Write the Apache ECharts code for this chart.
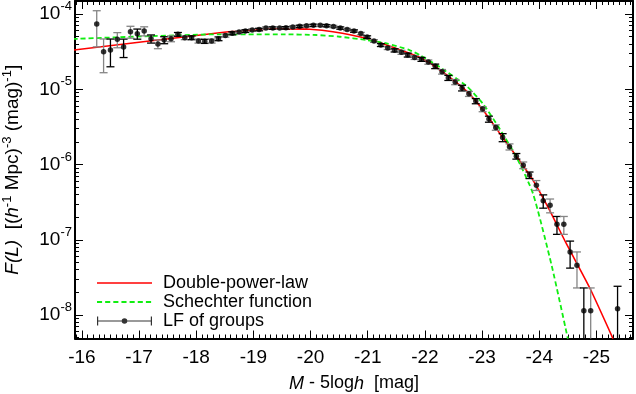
<!DOCTYPE html>
<html>
<head>
<meta charset="utf-8">
<script src="https://cdn.jsdelivr.net/npm/echarts@6/dist/echarts.min.js"></script>
<style>
html, body { margin: 0; padding: 0; background: #fff; }
#chart { width: 636px; height: 394px; }
</style>
</head>
<body>
<div id="chart"></div>
<script>
// LF of groups: absolute magnitude bins, F(L) values and 1-sigma errors
var mags = [
  -16.26, -16.38, -16.50, -16.62, -16.73, -16.85, -16.97, -17.09, -17.21, -17.33,
  -17.44, -17.56, -17.68, -17.80, -17.92, -18.04, -18.15, -18.27, -18.39, -18.51,
  -18.63, -18.75, -18.86, -18.98, -19.10, -19.22, -19.34, -19.46, -19.57, -19.69,
  -19.81, -19.93, -20.05, -20.17, -20.28, -20.40, -20.52, -20.64, -20.76, -20.88,
  -20.99, -21.11, -21.23, -21.35, -21.47, -21.59, -21.70, -21.82, -21.94, -22.06,
  -22.18, -22.30, -22.41, -22.53, -22.65, -22.77, -22.89, -23.01, -23.12, -23.24,
  -23.36, -23.48, -23.60, -23.72, -23.83, -23.95, -24.07, -24.19, -24.31, -24.43,
  -24.54, -24.66, -24.78, -24.90, -25.37
];
var lf = [
  7.36e-5, 3.16e-5, 3.32e-5, 4.61e-5, 3.64e-5, 5.82e-5, 5.47e-5, 5.94e-5, 4.69e-5, 3.99e-5,
  4.51e-5, 4.70e-5, 5.37e-5, 4.84e-5, 4.84e-5, 4.38e-5, 4.34e-5, 4.38e-5, 4.69e-5, 5.18e-5,
  5.54e-5, 5.76e-5, 5.94e-5, 6.13e-5, 6.22e-5, 6.51e-5, 6.51e-5, 6.51e-5, 6.55e-5, 6.72e-5,
  6.86e-5, 6.99e-5, 7.07e-5, 7.07e-5, 6.99e-5, 6.82e-5, 6.51e-5, 6.22e-5, 5.94e-5, 5.50e-5,
  4.94e-5, 4.38e-5, 3.87e-5, 3.53e-5, 3.29e-5, 3.10e-5, 2.85e-5, 2.65e-5, 2.50e-5, 2.30e-5,
  2.02e-5, 1.71e-5, 1.42e-5, 1.25e-5, 1.04e-5, 8.70e-6, 6.97e-6, 5.45e-6, 4.02e-6, 3.11e-6,
  2.29e-6, 1.72e-6, 1.29e-6, 9.80e-7, 7.23e-7, 5.32e-7, 3.29e-7, 2.88e-7, 1.61e-7, 1.61e-7,
  6.90e-8, 4.59e-8, 1.14e-8, 1.14e-8, 1.21e-8
];
var lfErr = [
  3.7e-5, 1.5e-5, 1.33e-5, 1.05e-5, 1.0e-5, 1.05e-5, 8.4e-6, 8.2e-6, 5.8e-6, 5.3e-6,
  4.8e-6, 4.2e-6, 3.1e-6, 2.8e-6, 2.8e-6, 2.7e-6, 2.7e-6, 2.7e-6, 2.7e-6, 2.5e-6,
  2.5e-6, 2.4e-6, 2.4e-6, 2.4e-6, 2.4e-6, 2.4e-6, 2.4e-6, 2.4e-6, 2.4e-6, 2.4e-6,
  2.4e-6, 2.4e-6, 2.4e-6, 2.4e-6, 2.4e-6, 2.4e-6, 2.3e-6, 2.2e-6, 2.1e-6, 2.0e-6,
  1.9e-6, 1.8e-6, 1.7e-6, 1.6e-6, 1.6e-6, 1.9e-6, 1.7e-6, 1.6e-6, 1.5e-6, 1.5e-6,
  1.4e-6, 1.2e-6, 1.1e-6, 1.0e-6, 9.0e-7, 6.7e-7, 5.5e-7, 4.2e-7, 3.7e-7, 2.6e-7,
  2.8e-7, 1.6e-7, 1.1e-7, 1.0e-7, 7.2e-8, 8.0e-8, 6.6e-8, 6.0e-8, 4.3e-8, 4.3e-8,
  2.7e-8, 2.3e-8, 1.15e-8, 1.15e-8, 1.2e-8
];

// fitted curves
var dplMag = [-15.84, -18.41, -19.23, -19.60, -19.99, -20.39, -20.98, -21.33, -21.91, -22.14,
  -22.43, -22.73, -23.02, -23.31, -23.60, -23.89, -24.18, -24.47, -24.88, -25.29];
var dplVal = [3.31e-5, 5.64e-5, 6.27e-5, 6.35e-5, 6.27e-5, 5.82e-5, 4.75e-5, 3.87e-5, 2.65e-5, 2.10e-5,
  1.45e-5, 9.46e-6, 5.28e-6, 2.59e-6, 1.29e-6, 6.21e-7, 2.48e-7, 9.0e-8, 2.32e-8, 4.86e-9];
var schMag = [-15.84, -18.41, -19.52, -20.10, -20.51, -20.98, -21.33, -21.73, -21.91, -22.26,
  -22.73, -23.02, -23.31, -23.60, -23.89, -24.22, -24.50];
var schVal = [4.66e-5, 5.37e-5, 5.37e-5, 5.26e-5, 4.99e-5, 4.51e-5, 4.07e-5, 3.32e-5, 2.85e-5, 1.97e-5,
  1.10e-5, 6.35e-6, 2.96e-6, 1.26e-6, 4.13e-7, 4.46e-8, 4.86e-9];

var xTickLabels = [-16, -17, -18, -19, -20, -21, -22, -23, -24, -25];
var yTickExp = [-8, -7, -6, -5, -4];

var FONT = 'Liberation Sans';
var xMin = -25.64, xMax = -15.88;
var yMin = -8.312, yMax = -3.827;

var xMinor = [];
for (var t = 159; t <= 256; t++) xMinor.push(-t / 10);
var yMinor = [];
for (var e = -9; e <= -4; e++) {
  for (var k = 2; k <= 9; k++) {
    var v = e + Math.log10(k);
    if (v > yMin && v < yMax) yMinor.push(v);
  }
}

function pairs(xs, ys) {
  var out = [];
  for (var i = 0; i < xs.length; i++) out.push([xs[i], Math.log10(ys[i])]);
  return out;
}

var pointData = [], barData = [];
for (var i = 0; i < mags.length; i++) {
  var low = lf[i] - lfErr[i];
  var clamped = !(low > 0) || Math.log10(low) < yMin;
  pointData.push([mags[i], Math.log10(lf[i])]);
  barData.push([mags[i], clamped ? yMin : Math.log10(low), Math.log10(lf[i] + lfErr[i]), clamped ? 1 : 0]);
}

function xAxisCfg(pos, ticks, len, labels) {
  return {
    type: 'value', position: pos, min: xMin, max: xMax, inverse: true,
    axisLine: { show: labels !== null, onZero: false, lineStyle: { color: '#000', width: 2 } },
    axisTick: { show: true, inside: true, length: len, customValues: ticks, lineStyle: { color: '#000', width: 1 } },
    axisLabel: labels ? {
      show: true, customValues: labels, margin: 10, color: '#000', fontSize: 19, fontFamily: FONT,
      formatter: function (v) { return String(v); }
    } : { show: false },
    splitLine: { show: false }
  };
}

function yAxisCfg(pos, ticks, len, labels) {
  return {
    type: 'value', position: pos, min: yMin, max: yMax,
    axisLine: { show: labels !== null, onZero: false, lineStyle: { color: '#000', width: 2 } },
    axisTick: { show: true, inside: true, length: len, customValues: ticks, lineStyle: { color: '#000', width: 1 } },
    axisLabel: labels ? {
      show: true, customValues: labels, margin: 3, color: '#000',
      formatter: function (v) { return '{m|10}{s|' + Math.round(v) + '}'; },
      rich: {
        m: { fontSize: 19, lineHeight: 28, fontFamily: FONT, color: '#000' },
        s: { fontSize: 13, lineHeight: 13, verticalAlign: 'top', fontFamily: FONT, color: '#000' }
      }
    } : { show: false },
    splitLine: { show: false }
  };
}

var xMain = xAxisCfg('bottom', xTickLabels, 8, xTickLabels);
xMain.name = '{i|M}{n| - 5log}{i|h}{n|  [mag]}';
xMain.nameLocation = 'middle';
xMain.nameGap = 36;
xMain.nameTextStyle = {
  color: '#000',
  rich: {
    i: { fontSize: 18, fontStyle: 'italic', fontFamily: FONT, color: '#000' },
    n: { fontSize: 18, fontFamily: FONT, color: '#000' }
  }
};

var yMain = yAxisCfg('left', yTickExp, 8, yTickExp);
yMain.name = '{i|F(L)}{n|  [(}{i|h}{s|-1}{n| Mpc)}{s|-3}{n| (mag)}{s|-1}{n|]}';
yMain.nameLocation = 'middle';
yMain.nameRotate = 90;
yMain.nameGap = 50;
yMain.nameTextStyle = {
  color: '#000',
  rich: {
    i: { fontSize: 19, lineHeight: 24, fontStyle: 'italic', fontFamily: FONT, color: '#000' },
    n: { fontSize: 19, lineHeight: 24, fontFamily: FONT, color: '#000' },
    s: { fontSize: 13, lineHeight: 13, verticalAlign: 'top', fontFamily: FONT, color: '#000' }
  }
};

// legend icons (drawn as filled paths, aspect kept)
var solidIcon = 'path://M0,0h55v1.6h-55z';
var dashIcon = 'path://M0,0h5v1.8h-5z M8,0h5v1.8h-5z M16,0h5v1.8h-5z M24,0h5v1.8h-5z M32,0h5v1.8h-5z M40,0h5v1.8h-5z M48,0h5v1.8h-5z M53.9,0h0.1v1.8h-0.1z';
var errIcon = 'path://M0,0h1.2v9h-1.2z M53.8,0h1.2v9h-1.2z M0,3.9h55v1.2h-55z M24.7,4.5a2.8,2.8 0 1,1 5.6,0a2.8,2.8 0 1,1 -5.6,0z';

var chart = echarts.init(document.getElementById('chart'));
chart.setOption({
  animation: false,
  backgroundColor: '#fff',
  grid: { left: 75, right: 3, top: 1, bottom: 55.5, containLabel: false, outerBoundsMode: 'none' },
  xAxis: [
    xMain,
    xAxisCfg('bottom', xMinor, 4, null),
    xAxisCfg('top', xTickLabels, 8, false),
    xAxisCfg('top', xMinor, 4, null)
  ],
  yAxis: [
    yMain,
    yAxisCfg('left', yMinor, 4, null),
    yAxisCfg('right', yTickExp, 8, false),
    yAxisCfg('right', yMinor, 4, null)
  ],
  legend: {
    orient: 'vertical', left: 97, top: 274, padding: 0,
    itemWidth: 55, itemHeight: 14, itemGap: 1, selectedMode: false,
    textStyle: { fontSize: 18, lineHeight: 18, fontFamily: FONT, color: '#000', padding: [0, 0, 0, 6] },
    data: [
      { name: 'Double-power-law', icon: solidIcon },
      { name: 'Schechter function', icon: dashIcon },
      { name: 'LF of groups', icon: errIcon }
    ]
  },
  series: [
    {
      name: 'Double-power-law', type: 'line', data: pairs(dplMag, dplVal),
      symbol: 'none', smooth: 0.2,
      lineStyle: { color: '#ff0000', width: 1.6 }, itemStyle: { color: '#ff0000' }, z: 2
    },
    {
      name: 'Schechter function', type: 'line', data: pairs(schMag, schVal),
      symbol: 'none', smooth: 0.2,
      lineStyle: { color: '#11ee11', width: 1.8, type: [5, 3] }, itemStyle: { color: '#11ee11' }, z: 2
    },
    {
      type: 'custom', data: barData, z: 3,
      encode: { x: 0, y: [1, 2] },
      renderItem: function (params, api) {
        var x = api.value(0);
        var top = api.coord([x, api.value(2)]);
        var bot = api.coord([x, api.value(1)]);
        var grey = params.dataIndex === 0 || params.dataIndex % 2 === 1;
        var st = { stroke: grey ? '#858585' : '#000', lineWidth: 1.3 };
        var kids = [
          { type: 'line', shape: { x1: top[0], y1: top[1], x2: bot[0], y2: bot[1] }, style: st },
          { type: 'line', shape: { x1: top[0] - 4, y1: top[1], x2: top[0] + 4, y2: top[1] }, style: st }
        ];
        if (!api.value(3)) {
          kids.push({ type: 'line', shape: { x1: bot[0] - 4, y1: bot[1], x2: bot[0] + 4, y2: bot[1] }, style: st });
        }
        return { type: 'group', children: kids };
      }
    },
    {
      name: 'LF of groups', type: 'scatter', data: pointData,
      symbol: 'circle', symbolSize: 5.5, itemStyle: { color: '#000' }, z: 4
    }
  ]
});
</script>
</body>
</html>
